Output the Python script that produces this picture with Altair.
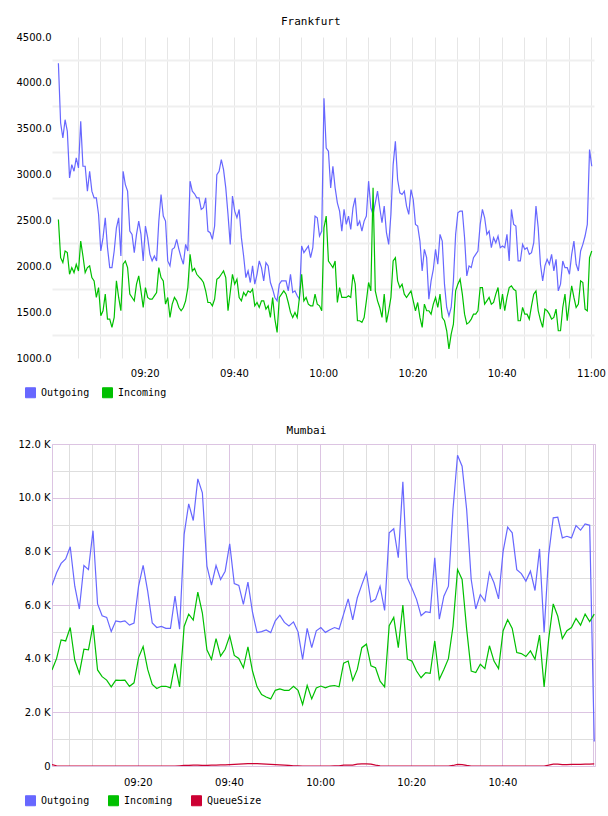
import altair as alt
import pandas as pd

# ---------------------------------------------------------------- data
# Frankfurt: traffic sampled every 30 s from 09:00:40
fra_outgoing = [
    4214, 3562, 3399, 3598, 3471, 2964, 3109, 3036, 3181, 3072,
    3580, 3091, 3091, 2819, 3036, 2819, 2746, 2746, 2565, 2167,
    2312, 2529, 2203, 1986, 1986, 2167, 2420, 2529, 2112, 3036,
    2891, 2819, 2384, 2348, 2149, 2348, 2493, 2348, 2058, 2439,
    2312, 2130, 2058, 2112, 2058, 2493, 2783, 2547, 2493, 2058,
    2004, 2185, 2203, 2294, 2185, 2094, 2022, 2239, 2167, 2928,
    2819, 2790, 2746, 2746, 2620, 2638, 2746, 2384, 2366, 2294,
    2439, 3000, 3036, 3163, 3054, 2855, 2565, 2239, 2765, 2602,
    2529, 2620, 2312, 2112, 1877, 1949, 1823, 2004, 1805, 1913,
    2058, 1986, 1841, 2040, 2004, 1823, 1750, 1660, 1623, 1805,
    1841, 1841, 1841, 1732, 1913, 1714, 1732, 1678, 1641, 2221,
    2149, 2185, 2221, 2094, 2203, 2547, 2529, 2330, 2384, 3833,
    3290, 3254, 2855, 3091, 2855, 2692, 2602, 2384, 2620, 2457,
    2547, 2402, 2638, 2746, 2439, 2493, 2384, 2493, 2547, 2928,
    2638, 2565, 2692, 2819, 2638, 2475, 2656, 2366, 2239, 2565,
    3109, 3362, 2946, 2801, 2783, 2819, 2656, 2565, 2837, 2728,
    2457, 2439, 2275, 1949, 2185, 2094, 1641, 1841, 1967, 2185,
    2022, 2348, 2275, 1805, 1551, 1460, 1551, 1841, 2348, 2583,
    2602, 2602, 2312, 1895, 2004, 1986, 2094, 2130, 2167, 2457,
    2620, 2529, 2348, 2384, 2203, 2312, 2257, 2330, 2203, 2221,
    2203, 2348, 2058, 2620, 2457, 2439, 2058, 2058, 2239, 2185,
    2203, 2130, 2149, 2257, 2656, 2420, 2022, 1841, 2004, 2076,
    2022, 2130, 1949, 2076, 1732, 1805, 2058, 1986, 1986, 1913,
    2130, 2275, 2022, 1949, 2167, 2239, 2330, 2457, 3272, 3091,
]
fra_incoming = [
    2511, 2094, 2040, 2167, 2149, 1913, 1986, 1931, 2022, 1949,
    2275, 2112, 1931, 1986, 2004, 1877, 1841, 1660, 1768, 1460,
    1515, 1696, 1424, 1424, 1334, 1442, 1841, 1660, 1515, 2022,
    2058, 1986, 1696, 1660, 1623, 1805, 1895, 1732, 1551, 1768,
    1660, 1641, 1641, 1678, 1714, 1986, 1877, 1841, 1587, 1660,
    1442, 1587, 1660, 1623, 1551, 1515, 1551, 1623, 1768, 2130,
    1949, 1978, 1913, 1884, 1859, 1823, 1732, 1605, 1605, 1569,
    1641, 1859, 1877, 1913, 1949, 1877, 1515, 1714, 1913, 1805,
    1859, 1660, 1623, 1714, 1678, 1732, 1714, 1750, 1569, 1605,
    1551, 1623, 1623, 1533, 1569, 1442, 1660, 1424, 1279, 1660,
    1696, 1732, 1696, 1605, 1497, 1442, 1497, 1442, 1660, 1913,
    1623, 1660, 1587, 1569, 1569, 1696, 1587, 1569, 1515, 2420,
    2547, 2058, 2022, 1986, 2058, 1605, 1768, 1660, 1660, 1660,
    1678, 1660, 1913, 1805, 1406, 1406, 1388, 1442, 1623, 1823,
    1732, 2855, 1732, 1623, 1551, 1442, 1696, 1388, 1515, 1660,
    2058, 2094, 1841, 1768, 1805, 1696, 1660, 1696, 1732, 1623,
    1515, 1605, 1442, 1334, 1587, 1515, 1515, 1478, 1587, 1660,
    1551, 1696, 1442, 1406, 1297, 1098, 1261, 1370, 1732, 1805,
    1859, 1696, 1478, 1370, 1388, 1424, 1478, 1478, 1515, 1768,
    1768, 1587, 1623, 1660, 1587, 1605, 1696, 1768, 1533, 1696,
    1515, 1660, 1768, 1786, 1750, 1732, 1406, 1406, 1551, 1478,
    1478, 1424, 1569, 1696, 1732, 1515, 1413, 1334, 1533, 1515,
    1478, 1424, 1442, 1533, 1297, 1297, 1551, 1696, 1406, 1605,
    1786, 1660, 1551, 1587, 1841, 1823, 1533, 1515, 2094, 2167,
]

# Mumbai: traffic and queue size sampled every minute from 09:01:10
mum_outgoing = [
    6730, 7200, 7550, 7720, 8170, 6700, 5850, 7470, 7320, 8770,
    6040, 5600, 5540, 5010, 5410, 5370, 5410, 5250, 5330, 6700,
    7480, 6520, 5330, 5160, 5200, 5130, 5130, 6330, 5100, 8630,
    9770, 9150, 10700, 10180, 7450, 6740, 7470, 6950, 7260, 8280,
    6800, 6730, 6020, 6850, 5730, 4970, 5010, 5070, 4970, 5410,
    5620, 5350, 5220, 5370, 5000, 3970, 5130, 4410, 5040, 5160,
    4980, 5080, 5160, 5100, 5660, 6230, 5450, 6270, 6760, 7220,
    6110, 6210, 6700, 5800, 8690, 8840, 7760, 10590, 7010, 6620,
    6210, 5600, 5750, 5720, 7760, 5470, 6330, 6700, 9560, 11580,
    11170, 9560, 6950, 5850, 6390, 6140, 7220, 6830, 6230, 8000,
    8900, 8690, 7320, 7170, 6890, 7260, 6540, 8090, 4980, 7880,
    9250, 9270, 8500, 8560, 8500, 8960, 8790, 9020, 8970, 910,
]
mum_incoming = [
    3580, 4000, 4700, 4660, 5160, 3940, 3450, 4350, 4330, 5250,
    3580, 3330, 3200, 2950, 3200, 3190, 3200, 2970, 3100, 4040,
    4450, 3600, 3040, 2890, 2970, 2970, 2910, 3820, 2950, 5200,
    5660, 5440, 6480, 5700, 4330, 3970, 4750, 4100, 4350, 4850,
    4120, 4010, 3660, 4440, 3540, 2950, 2660, 2570, 2500, 2820,
    2870, 2820, 2820, 2970, 2820, 2290, 3000, 2500, 2910, 2980,
    2910, 2980, 3000, 2950, 3830, 3910, 3190, 3600, 4410, 4540,
    3730, 3660, 3160, 2950, 5230, 5540, 4410, 6000, 3980, 3910,
    3540, 3290, 3480, 3450, 4660, 3230, 3600, 4000, 5200, 7320,
    6950, 5100, 3540, 3480, 3790, 3630, 4480, 3910, 3630, 5040,
    5450, 5130, 4230, 4190, 4080, 4290, 3980, 4880, 2950, 4730,
    6040, 5580, 4750, 5040, 5160, 5500, 5250, 5660, 5380, 5660,
]
mum_queue = [
    50, 10, 0, 0, 0, 0, 0, 0, 0, 0,
    0, 0, 0, 0, 0, 0, 0, 0, 0, 0,
    0, 0, 0, 0, 0, 0, 0, 0, 10, 20,
    20, 30, 30, 20, 20, 30, 30, 40, 40, 50,
    60, 70, 80, 90, 90, 90, 80, 70, 60, 50,
    40, 30, 20, 10, 10, 0, 0, 0, 0, 0,
    0, 0, 5, 5, 30, 30, 30, 70, 80, 80,
    70, 30, 10, 0, 0, 0, 0, 0, 0, 0,
    0, 0, 0, 0, 0, 0, 0, 0, 20, 60,
    50, 20, 0, 0, 0, 0, 0, 0, 0, 0,
    0, 0, 0, 0, 0, 0, 0, 0, 0, 30,
    70, 70, 50, 50, 60, 60, 60, 70, 70, 80,
]

series_names = ["Outgoing", "Incoming", "QueueSize"]
series_colors = ["#6767ff", "#00c000", "#cc0033"]


def long_frame(start, step, columns):
    n = len(next(iter(columns.values())))
    times = pd.date_range(start, periods=n, freq=step).strftime("%Y-%m-%dT%H:%M:%S")
    parts = [pd.DataFrame({"time": times, "series": name, "value": vals})
             for name, vals in columns.items()]
    return pd.concat(parts, ignore_index=True)


fra_df = long_frame("2024-05-06 09:00:40", "30s",
                    {"Outgoing": fra_outgoing, "Incoming": fra_incoming})
mum_df = long_frame("2024-05-06 09:01:10", "60s",
                    {"Outgoing": mum_outgoing, "Incoming": mum_incoming,
                     "QueueSize": mum_queue})


def ts(h, m, s=0):
    return alt.DateTime(year=2024, month=5, date=6, hours=h, minutes=m, seconds=s)


# grid every 5 minutes, labels every 20 minutes
xticks = [ts(9 + m // 60, m % 60) for m in range(5, 121, 5)]
time_label = "minutes(datum.value) % 20 == 0 ? timeFormat(datum.value, '%H:%M') : ''"

LABEL_FONT = "DejaVu Sans"
MONO = "DejaVu Sans Mono"
PURPLE = "#dcc4e2"
GRAY = "#dedede"


def legend(n, lx, ly):
    return alt.Legend(
        title=None, orient="none", legendX=lx, legendY=ly, direction="horizontal",
        columns=n, gridAlign="all", columnPadding=10, labelOffset=5,
        labelFont=MONO, labelFontSize=10, labelColor="#000",
        symbolType="square", symbolSize=100, symbolOpacity=1,
        symbolStrokeColor="#999999", symbolStrokeWidth=1,
    )


def panel(df, names, title, x, y, lx, ly, stroke, width, height, title_offset):
    colors = alt.Scale(domain=names, range=series_colors[:len(names)])
    # invisible squares carry the legend (filled swatches)
    keys = alt.Chart(df).mark_square(opacity=0).encode(
        x=x, y=y,
        color=alt.Color("series:N", scale=colors, sort=names,
                        legend=legend(len(names), lx, ly)),
    )
    lines = alt.Chart(df).mark_line(strokeWidth=1.2, clip=True).encode(
        x=x, y=y,
        color=alt.Color("series:N", scale=colors, sort=names),
        detail="series:N",
    )
    return alt.layer(keys, lines).properties(
        width=width, height=height,
        view=alt.ViewBackground(stroke=stroke, strokeWidth=1),
        title=alt.TitleParams(title, font=MONO, fontSize=11, fontWeight="normal",
                              color="#000", anchor="middle", frame="bounds",
                              offset=title_offset),
    )


# ---------------------------------------------------------------- Frankfurt
fra_x = alt.X(
    "time:T", title=None,
    scale=alt.Scale(domain=[ts(8, 59, 14), ts(11, 0, 40)]),
    axis=alt.Axis(values=xticks, labelExpr=time_label, ticks=False, domain=False,
                  grid=True, gridColor="#e6e6e6", gridWidth=1,
                  labelFont=LABEL_FONT, labelFontSize=10, labelColor="#000",
                  labelPadding=10, labelFlush=False, labelOverlap=False),
)
fra_y = alt.Y(
    "value:Q", title=None,
    scale=alt.Scale(domain=[1000, 4500], nice=False, zero=False),
    axis=alt.Axis(values=list(range(1000, 4501, 250)),
                  labelExpr="datum.value % 500 == 0 ? format(datum.value, '.1f') : ''",
                  ticks=False, domain=False, grid=True, gridWidth=2,
                  gridColor={"condition": {"test": "datum.value % 500 != 0",
                                           "value": "#efefef"},
                             "value": "transparent"},
                  labelFont=LABEL_FONT, labelFontSize=10, labelColor="#000",
                  labelPadding=1, minExtent=36, labelOverlap=False),
)
frankfurt = panel(fra_df, series_names[:2], "Frankfurt", fra_x, fra_y,
                  -27, 350, "transparent", 542, 321, 5)

# ---------------------------------------------------------------- Mumbai
mum_x = alt.X(
    "time:T", title=None,
    scale=alt.Scale(domain=[ts(9, 1, 10), ts(11, 0, 20)]),
    axis=alt.Axis(values=xticks, ticks=False, domain=False,
                  labelExpr="hours(datum.value) < 11 ? (" + time_label + ") : ''",
                  grid=True, gridWidth=1,
                  gridColor={"condition": {"test": "minutes(datum.value) % 20 == 0",
                                           "value": PURPLE},
                             "value": GRAY},
                  labelFont=LABEL_FONT, labelFontSize=10, labelColor="#000",
                  labelPadding=11, labelFlush=False, labelOverlap=False),
)
mum_y = alt.Y(
    "value:Q", title=None,
    scale=alt.Scale(domain=[0, 12000], nice=False),
    axis=alt.Axis(values=list(range(0, 12001, 1000)),
                  labelExpr="datum.value % 2000 == 0 ? (datum.value == 0 ? '0' : "
                            "format(datum.value / 1000, '.1f') + ' K') : ''",
                  ticks=False, domain=False, grid=True, gridWidth=1,
                  gridColor={"condition": {"test": "datum.value % 2000 == 0",
                                           "value": PURPLE},
                             "value": GRAY},
                  labelFont=LABEL_FONT, labelFontSize=10, labelColor="#000",
                  labelPadding=2, minExtent=36, labelOverlap=False),
)
mumbai = panel(mum_df, series_names, "Mumbai", mum_x, mum_y,
               -27, 351, PURPLE, 543, 322, 3)

chart = (
    alt.vconcat(frankfurt, mumbai, spacing=23)
    .resolve_scale(color="independent")
    .resolve_legend(color="independent")
    .properties(padding={"left": 15, "top": 15, "right": 0, "bottom": 5},
                background="white")
)

chart.save("out.html", embed_options={"renderer": "svg", "actions": False})
